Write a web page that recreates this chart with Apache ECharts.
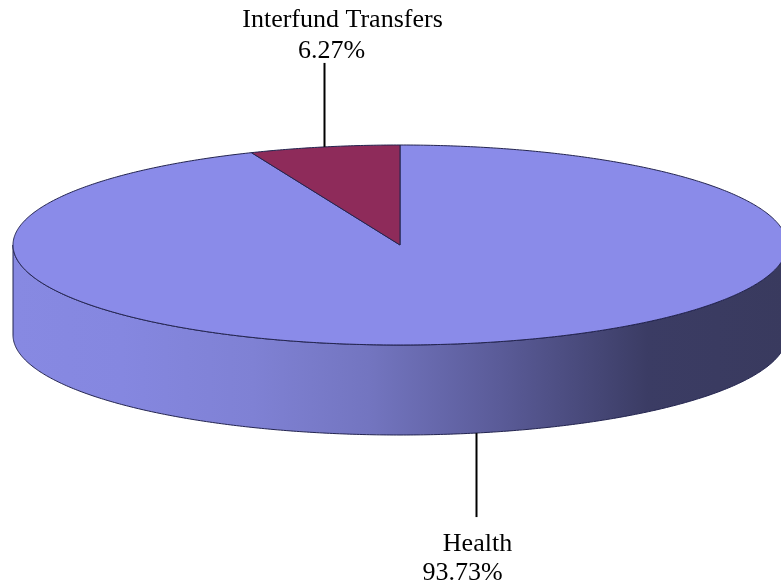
<!DOCTYPE html>
<html>
<head>
<meta charset="utf-8">
<title>Expenditure Share</title>
<script src="https://cdn.jsdelivr.net/npm/echarts@6/dist/echarts.min.js"></script>
<style>
  html, body { margin: 0; padding: 0; background: #ffffff; }
  #chart { width: 781px; height: 588px; }
</style>
</head>
<body>
<div id="chart"></div>
<script>
// Slice data (percent of total)
const categories = ['Health', 'Interfund Transfers'];
const shares = [93.73, 6.27];
const sliceColors = ['#8a8be9', '#8e2b5a'];

// Disc geometry (pixels)
const CX = 400, CY = 245, RX = 387, RY = 100, DEPTH = 90, LEADER = 84;
// Per-label horizontal nudges for [name line, percent line]
const labelShift = [[1, -14], [18, 7]];

const total = shares.reduce((a, b) => a + b, 0);

// Point on the rim; t is measured clockwise from 12 o'clock
function rim(t, dy) {
  return [CX + RX * Math.sin(t), CY - RY * Math.cos(t) + (dy || 0)];
}

function arcPoints(t0, t1, dy) {
  const pts = [];
  const steps = Math.max(2, Math.ceil((t1 - t0) / (Math.PI / 360)));
  for (let k = 0; k <= steps; k++) pts.push(rim(t0 + (t1 - t0) * k / steps, dy));
  return pts;
}

const sideFill = new echarts.graphic.LinearGradient(CX - RX, 0, CX + RX, 0, [
  { offset: 0.00, color: '#8789e2' },
  { offset: 0.14, color: '#8587e0' },
  { offset: 0.31, color: '#7f81d4' },
  { offset: 0.46, color: '#7375c0' },
  { offset: 0.63, color: '#5a5b98' },
  { offset: 0.82, color: '#3b3c64' },
  { offset: 1.00, color: '#393a5e' }
], true);

const EDGE = '#23244f';

function renderSlice(params, api) {
  const i = params.dataIndex;
  const value = api.value(0);
  let before = 0;
  for (let j = 0; j < i; j++) before += shares[j];
  const t0 = before / total * Math.PI * 2;
  const t1 = (before + value) / total * Math.PI * 2;
  const children = [];

  // Visible outer wall (front half of the disc)
  const fs = Math.max(t0, Math.PI / 2), fe = Math.min(t1, Math.PI * 3 / 2);
  if (fe > fs) {
    const pts = arcPoints(fs, fe, 0).concat(arcPoints(fs, fe, DEPTH).reverse());
    children.push({
      type: 'polygon', z2: 1,
      shape: { points: pts },
      style: { fill: sideFill, stroke: EDGE, lineWidth: 1 }
    });
  }

  // Top face
  children.push({
    type: 'polygon', z2: 10,
    shape: { points: [[CX, CY]].concat(arcPoints(t0, t1, 0)) },
    style: { fill: sliceColors[i], stroke: EDGE, lineWidth: 1 }
  });

  // Leader line and label
  const mid = (t0 + t1) / 2;
  const front = Math.cos(mid) < 0;
  const a = front ? rim(mid, DEPTH) : rim(mid, 0);
  const x = Math.round(a[0]) + 0.5;
  const yEnd = front ? a[1] + LEADER : a[1] - LEADER;
  children.push({
    type: 'line', z2: 20,
    shape: { x1: x, y1: a[1], x2: x, y2: yEnd },
    style: { stroke: '#000000', lineWidth: 2 }
  });
  const font = '26px "Liberation Serif", "Times New Roman", serif';
  const nameY = front ? yEnd + 27 : yEnd - 43;
  const pctY = front ? yEnd + 56 : yEnd - 12;
  children.push({
    type: 'text', z2: 20,
    x: x + labelShift[i][0], y: nameY,
    style: { text: categories[i], font: font, fill: '#000000', align: 'center', verticalAlign: 'middle' }
  });
  children.push({
    type: 'text', z2: 20,
    x: x + labelShift[i][1], y: pctY,
    style: { text: value.toFixed(2) + '%', font: font, fill: '#000000', align: 'center', verticalAlign: 'middle' }
  });

  return { type: 'group', children: children };
}

const chart = echarts.init(document.getElementById('chart'), null, { renderer: 'canvas' });
chart.setOption({
  backgroundColor: '#ffffff',
  animation: false,
  series: [{
    type: 'custom',
    coordinateSystem: 'none',
    renderItem: renderSlice,
    data: categories.map((c, i) => ({ name: c, value: [shares[i]] }))
  }]
});
</script>
</body>
</html>
